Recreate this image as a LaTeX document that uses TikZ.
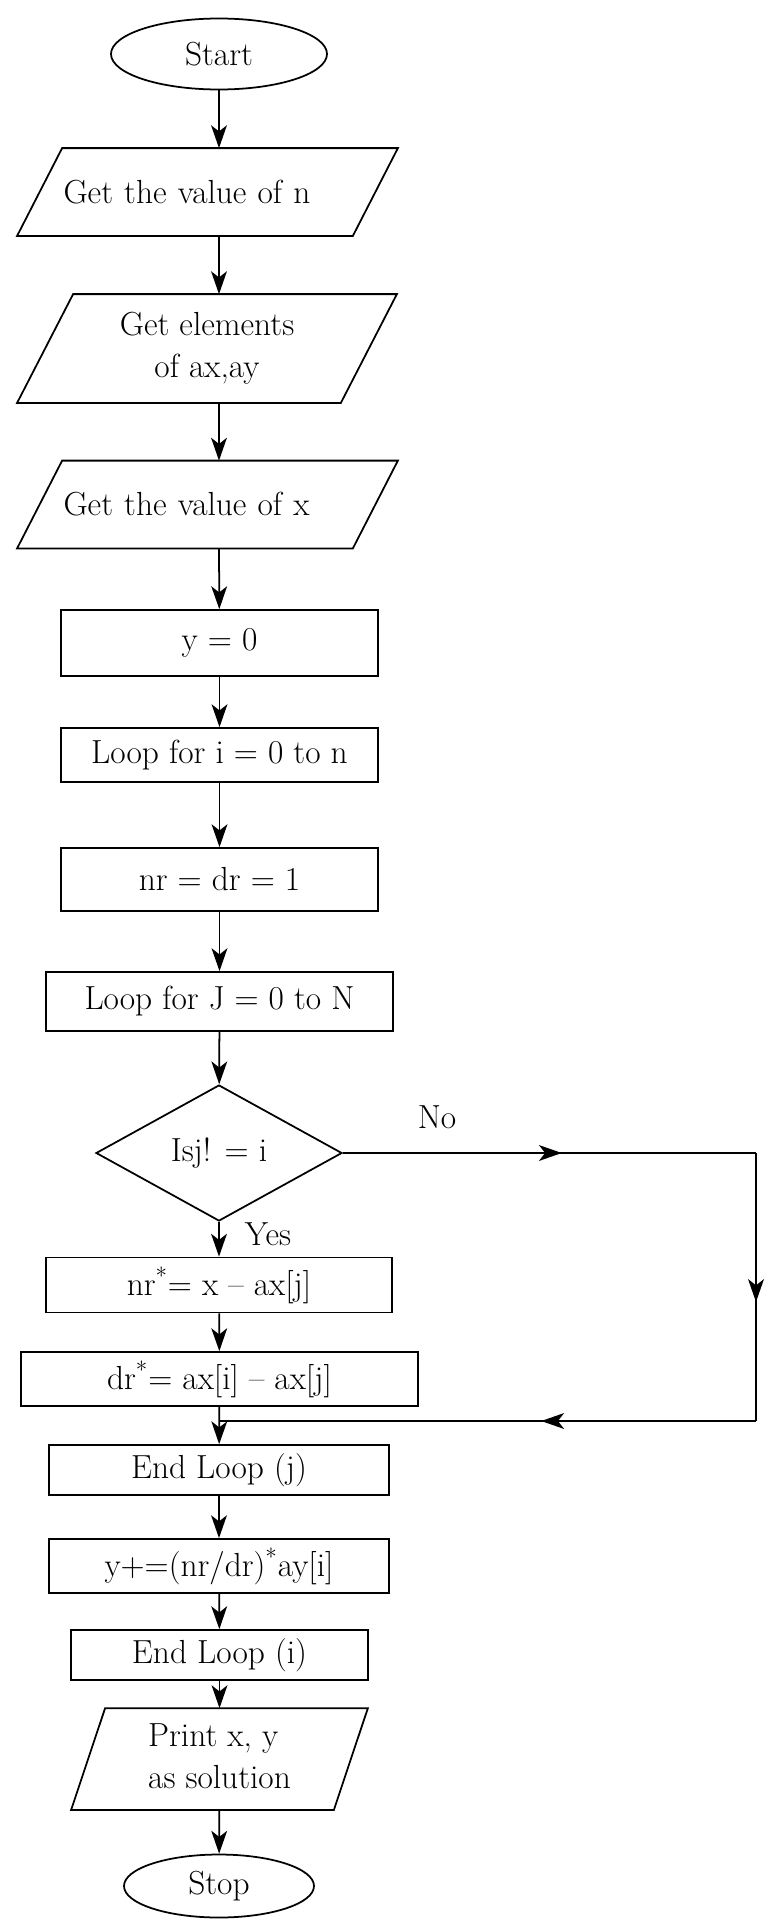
\documentclass[tikz,border=0pt]{standalone}
\usetikzlibrary{arrows.meta,shapes.geometric,decorations.markings}
\newlength\unitpx
\setlength\unitpx{0.02cm}
\tikzset{
  flowline/.style={draw, -{Stealth[length=13pt,width=9pt,inset=3.5pt]}},
  midarrow/.style={postaction={decorate}, decoration={markings,
    mark=at position #1 with {\arrow{Stealth[length=13pt,width=9pt,inset=3.5pt]}}}},
  terminal/.style={draw, ellipse, inner sep=0pt},
  iobox/.style={rectangle, inner sep=0pt, align=center},
  procbox/.style={draw, rectangle, inner sep=0pt},
  decision/.style={draw, diamond, inner sep=0pt}
}
% parallelogram round an iobox node: #1 node, #2 half of the slant
\newcommand{\ioshape}[2]{%
  \draw ([xshift=-#2]#1.south west) -- ([xshift=-#2]#1.south east)
    -- ([xshift=#2]#1.north east) -- ([xshift=#2]#1.north west) -- cycle;}

\begin{document}
\begin{tikzpicture}[x=\unitpx, y=-\unitpx, line width=1pt,
    font=\fontsize{19}{24}\selectfont]
  \useasboundingbox (0,0) rectangle (769,1930);

  \node[terminal, minimum width=216\unitpx, minimum height=71\unitpx] (start) at (219,54) {Start};
  \node[iobox, align=left, inner xsep=23\unitpx, text width=288\unitpx, minimum height=86\unitpx] (getn) at (207.5,192) {Get the value of n};
  \node[iobox, minimum width=322\unitpx, minimum height=107\unitpx] (getel) at (207,348.5) {Get elements\\of ax,ay};
  \node[iobox, align=left, inner xsep=23\unitpx, text width=288\unitpx, minimum height=86\unitpx] (getx) at (207.5,504.5) {Get the value of x};
  \node[procbox, minimum width=317\unitpx, minimum height=66\unitpx] (yzero) at (219.5,643) {y = 0};
  \node[procbox, minimum width=317\unitpx, minimum height=54\unitpx] (loopi) at (219.5,755) {Loop for i = 0 to n};
  \node[procbox, minimum width=317\unitpx, minimum height=63\unitpx] (nrdr) at (219.5,879.5) {nr = dr = 1};
  \node[procbox, minimum width=347\unitpx, minimum height=59\unitpx] (loopj) at (219.5,1001.5) {Loop for J = 0 to N};
  \node[decision, minimum width=246\unitpx, minimum height=136\unitpx] (isj) at (219,1153) {Isj! = i};
  \node[procbox, minimum width=346\unitpx, minimum height=55\unitpx] (nrmul) at (219,1285) {nr\textsuperscript{*}= x -- ax[j]};
  \node[procbox, minimum width=397\unitpx, minimum height=54\unitpx] (drmul) at (219.5,1379) {dr\textsuperscript{*}= ax[i] -- ax[j]};
  \node[procbox, minimum width=340\unitpx, minimum height=50\unitpx] (endj) at (219,1470) {End Loop (j)};
  \node[procbox, minimum width=340\unitpx, minimum height=54\unitpx] (yplus) at (219,1566) {y+=(nr/dr)\textsuperscript{*}ay[i]};
  \node[procbox, minimum width=297\unitpx, minimum height=50\unitpx] (endi) at (219.5,1655) {End Loop (i)};
  \node[iobox, minimum width=261\unitpx, minimum height=100\unitpx] (print) at (219.5,1759) {\begin{tabular}{@{}l@{}}Print x, y\\as solution\end{tabular}};
  \node[terminal, minimum width=190\unitpx, minimum height=63\unitpx] (stop) at (219,1886) {Stop};

  \ioshape{getn}{22.5\unitpx}
  \ioshape{getel}{28\unitpx}
  \ioshape{getx}{22.5\unitpx}
  \ioshape{print}{17\unitpx}

  \node (nolabel) at (437,1117) {No};
  \node (yeslabel) at (268,1234) {Yes};

  \coordinate (noturn) at (756,1153);
  \coordinate (backturn) at (756,1421);
  \coordinate (merge) at (219,1421);

  \draw[flowline] (start) -- (start |- getn.north);
  \draw[flowline] (start |- getn.south) -- (start |- getel.north);
  \draw[flowline] (start |- getel.south) -- (start |- getx.north);
  \draw[flowline] (start |- getx.south) -- (yzero);
  \draw[flowline] (yzero) -- (loopi);
  \draw[flowline] (loopi) -- (nrdr);
  \draw[flowline] (nrdr) -- (loopj);
  \draw[flowline] (loopj) -- (isj);
  \draw[flowline] (isj) -- (nrmul);
  \draw[flowline] (nrmul) -- (drmul);
  \draw[flowline] (drmul) -- (endj);
  \draw[flowline] (endj) -- (yplus);
  \draw[flowline] (yplus) -- (endi);
  \draw[flowline] (endi) -- (print);
  \draw[flowline] (print) -- (stop);

  \draw[midarrow=0.53] (isj.east) -- (noturn);
  \draw[midarrow=0.556] (noturn) -- (backturn);
  \draw[midarrow=0.4] (backturn) -- (merge);
\end{tikzpicture}
\end{document}
